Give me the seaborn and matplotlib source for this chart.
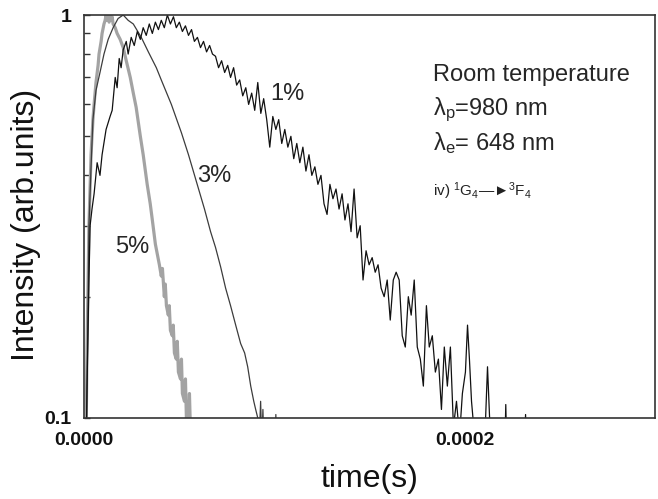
import numpy as np
import pandas as pd
import matplotlib
matplotlib.use("Agg")
import matplotlib.pyplot as plt
import seaborn as sns
from matplotlib.ticker import FixedLocator, NullFormatter

# ---------------- data (time in microseconds, normalised intensity) ----------------
t_1pct = [0.5, 1.6, 2.6, 3.2, 4.2, 5.3, 6.9, 8.4, 9.5, 11.6, 13.7, 14.8, 16.4, 17.4, 18.5, 19.5,
          20.6, 22.2, 23.2, 24.8, 26.4, 28.0, 29.6, 31.1, 32.7, 34.3, 35.9, 37.5, 39.1, 40.6,
          42.2, 43.8, 45.4, 47.0, 48.5, 50.1, 51.7, 53.3, 54.9, 56.5, 58.0, 59.6, 61.2, 62.8,
          64.4, 66.0, 67.5, 69.1, 70.7, 72.3, 73.9, 75.5, 77.0, 78.6, 80.2, 81.8, 83.4, 85.0,
          86.5, 88.1, 89.7, 91.3, 92.9, 94.4, 96.0, 97.6, 99.2, 100.8, 102.3, 103.9, 105.5,
          107.1, 108.7, 110.2, 111.8, 113.4, 115.0, 116.6, 118.2, 119.7, 121.3, 122.9, 124.5,
          126.1, 127.7, 129.2, 130.8, 132.4, 134.0, 135.6, 137.1, 138.7, 140.3, 141.9, 143.5,
          145.1, 146.6, 148.2, 149.8, 151.4, 153.0, 154.5, 156.1, 157.7, 159.3, 160.9, 162.5,
          164.0, 165.6, 167.2, 168.8, 170.4, 171.9, 173.5, 175.1, 176.7, 178.3, 179.9, 181.4,
          183.0, 184.6, 186.2, 187.8, 189.3, 190.9, 192.5, 194.1, 195.7, 197.3, 198.8, 200.4,
          201.5, 202.5, 203.6, 205.2, 206.7, 208.3, 209.9, 211.0, 212.0, 213.1, 214.6, 216.2,
          217.8, 219.4, 221.0, 221.6, 222.5, 225.0, 230.0, 232.0, 233.0, 240.0]
I_1pct = [0.05, 0.12, 0.22, 0.30, 0.33, 0.36, 0.43, 0.40, 0.45, 0.52, 0.56, 0.58, 0.70, 0.66,
          0.78, 0.74, 0.82, 0.86, 0.80, 0.88, 0.84, 0.91, 0.87, 0.93, 0.89, 0.95, 0.90, 0.96,
          0.92, 0.97, 0.93, 1.00, 0.95, 0.99, 0.93, 0.96, 0.91, 0.94, 0.89, 0.92, 0.86, 0.88,
          0.83, 0.86, 0.81, 0.84, 0.80, 0.79, 0.74, 0.77, 0.72, 0.75, 0.70, 0.74, 0.67, 0.69,
          0.63, 0.66, 0.60, 0.64, 0.58, 0.68, 0.57, 0.62, 0.55, 0.47, 0.56, 0.52, 0.55, 0.48,
          0.52, 0.47, 0.50, 0.44, 0.48, 0.43, 0.47, 0.41, 0.45, 0.40, 0.42, 0.38, 0.40, 0.34,
          0.32, 0.38, 0.35, 0.37, 0.33, 0.36, 0.31, 0.34, 0.29, 0.37, 0.28, 0.30, 0.22, 0.26,
          0.24, 0.25, 0.23, 0.24, 0.21, 0.20, 0.22, 0.175, 0.22, 0.23, 0.22, 0.16, 0.15, 0.20,
          0.18, 0.22, 0.15, 0.14, 0.12, 0.19, 0.15, 0.16, 0.13, 0.14, 0.105, 0.15, 0.12, 0.15,
          0.095, 0.11, 0.09, 0.115, 0.13, 0.17, 0.14, 0.11, 0.09, 0.08, 0.07, 0.085, 0.10,
          0.134, 0.10, 0.07, 0.06, 0.07, 0.065, 0.08, 0.108, 0.07, 0.05, 0.06, 0.102, 0.06, 0.05]

t_3pct = [0.5, 1.6, 2.6, 3.7, 4.7, 6.3, 8.4, 10.5, 12.7, 15.3, 17.9, 20.6, 23.2, 25.9, 30.1,
          33.8, 38.0, 40.6, 45.9, 51.2, 54.9, 60.2, 63.3, 66.5, 69.1, 71.8, 74.4, 77.0, 79.7,
          82.3, 84.4, 86.0, 87.6, 89.2, 90.2, 91.3, 92.3, 92.8, 93.4, 94.0, 95.0, 100.2, 100.8,
          101.3, 102.0]
I_3pct = [0.05, 0.12, 0.30, 0.42, 0.55, 0.65, 0.72, 0.80, 0.87, 0.93, 0.98, 1.00, 0.97, 0.95,
          0.88, 0.81, 0.74, 0.69, 0.60, 0.51, 0.45, 0.37, 0.33, 0.29, 0.265, 0.237, 0.21, 0.19,
          0.17, 0.153, 0.145, 0.134, 0.12, 0.11, 0.105, 0.10, 0.095, 0.11, 0.085, 0.105, 0.07,
          0.07, 0.102, 0.07, 0.06]

t_5pct = [0.5, 1.6, 2.6, 3.7, 4.7, 5.3, 6.3, 7.4, 7.9, 9.0, 9.5, 10.5, 11.1, 11.6, 12.1, 12.7,
          13.2, 13.7, 14.2, 14.8, 15.3, 16.4, 17.4, 19.0, 20.6, 22.2, 24.3, 25.9, 27.4, 29.6,
          31.1, 33.2, 34.8, 35.9, 37.5, 39.6, 40.6, 41.2, 42.2, 42.7, 43.3, 44.3, 44.8, 45.4,
          46.4, 46.9, 47.5, 48.5, 49.0, 49.6, 50.7, 51.2, 51.7, 52.8, 53.3, 53.8, 54.9, 55.4,
          56.0, 57.0]
I_5pct = [0.05, 0.15, 0.30, 0.45, 0.55, 0.60, 0.68, 0.75, 0.80, 0.86, 0.90, 0.95, 0.97, 1.00,
          0.97, 1.00, 0.96, 1.00, 0.97, 0.99, 0.95, 0.93, 0.90, 0.87, 0.83, 0.77, 0.70, 0.64,
          0.59, 0.50, 0.45, 0.38, 0.34, 0.31, 0.27, 0.24, 0.225, 0.235, 0.20, 0.215, 0.19, 0.18,
          0.19, 0.165, 0.16, 0.17, 0.145, 0.14, 0.155, 0.13, 0.125, 0.14, 0.115, 0.11, 0.125,
          0.10, 0.10, 0.115, 0.09, 0.08]

series_labels = ["1%", "3%", "5%"]
x_tick_values = [0.0, 0.0002]
x_tick_labels = ["0.0000", "0.0002"]
y_tick_values = [0.1, 1.0]
y_tick_labels = ["0.1", "1"]

# ---------------- figure ----------------
sns.set_style("white")
plt.rcParams["font.family"] = ["Liberation Sans", "DejaVu Sans"]
plt.rcParams["mathtext.fontset"] = "custom"
plt.rcParams["mathtext.rm"] = "Liberation Sans"
plt.rcParams["mathtext.it"] = "Liberation Sans:italic"
plt.rcParams["mathtext.bf"] = "Liberation Sans:bold"

fig = plt.figure(figsize=(6.58, 4.99), dpi=100)
ax = fig.add_axes([84 / 658, 1 - 418 / 499, 571 / 658, 403 / 499])

df1 = pd.DataFrame({"t": np.array(t_1pct) * 1e-6, "I": I_1pct})
df3 = pd.DataFrame({"t": np.array(t_3pct) * 1e-6, "I": I_3pct})
df5 = pd.DataFrame({"t": np.array(t_5pct) * 1e-6, "I": I_5pct})

sns.lineplot(data=df5, x="t", y="I", ax=ax, color="#a3a3a3", linewidth=2.3, sort=False)
sns.lineplot(data=df3, x="t", y="I", ax=ax, color="#3c3c3c", linewidth=0.9, sort=False)
sns.lineplot(data=df1, x="t", y="I", ax=ax, color="#111111", linewidth=0.9, sort=False)

ax.set_yscale("log")
ax.set_xlim(0, 0.0003)
ax.set_ylim(0.1, 1.0)

ax.xaxis.set_major_locator(FixedLocator(x_tick_values))
ax.set_xticklabels(x_tick_labels)
ax.yaxis.set_major_locator(FixedLocator(y_tick_values))
ax.set_yticklabels(y_tick_labels)
ax.yaxis.set_minor_locator(FixedLocator([0.2, 0.3, 0.4, 0.5, 0.6, 0.7, 0.8, 0.9]))
ax.yaxis.set_minor_formatter(NullFormatter())
ax.xaxis.set_minor_locator(FixedLocator([]))

ax.tick_params(axis="y", which="both", direction="in", left=True, right=False,
               length=4, width=1.0, color="#333333", pad=9)
ax.tick_params(axis="x", which="both", bottom=False, top=False, length=0, pad=10)
for lab in ax.get_xticklabels() + ax.get_yticklabels():
    lab.set_fontsize(14)
    lab.set_fontweight("bold")
    lab.set_color("#111111")

for sp in ax.spines.values():
    sp.set_visible(True)
    sp.set_color("#333333")
    sp.set_linewidth(1.2)

ax.set_xlabel("time(s)", fontsize=23, color="#111111")
ax.set_ylabel("Intensity (arb.units)", fontsize=23, color="#111111")
ax.xaxis.set_label_coords(0.5, -0.115)
ax.yaxis.set_label_coords(-0.075, 0.48)

# curve labels
ax.text(0.326, 0.789, series_labels[0], transform=ax.transAxes, fontsize=17, va="baseline")
ax.text(0.198, 0.586, series_labels[1], transform=ax.transAxes, fontsize=17, va="baseline")
ax.text(0.054, 0.409, series_labels[2], transform=ax.transAxes, fontsize=17, va="baseline")

# annotation block
ax.text(0.611, 0.836, "Room temperature", transform=ax.transAxes, fontsize=17, va="baseline")
ax.text(0.611, 0.752, r"λ$_\mathregular{p}$=980 nm", transform=ax.transAxes, fontsize=17,
        va="baseline")
ax.text(0.611, 0.665, r"λ$_\mathregular{e}$= 648 nm", transform=ax.transAxes, fontsize=17,
        va="baseline")
ax.text(0.611, 0.551,
        r"iv) $^\mathregular{1}$G$_\mathregular{4}$—►$^\mathregular{3}$F$_\mathregular{4}$",
        transform=ax.transAxes, fontsize=11, va="baseline", color="#222222")

fig.savefig("out.png", dpi=100)
